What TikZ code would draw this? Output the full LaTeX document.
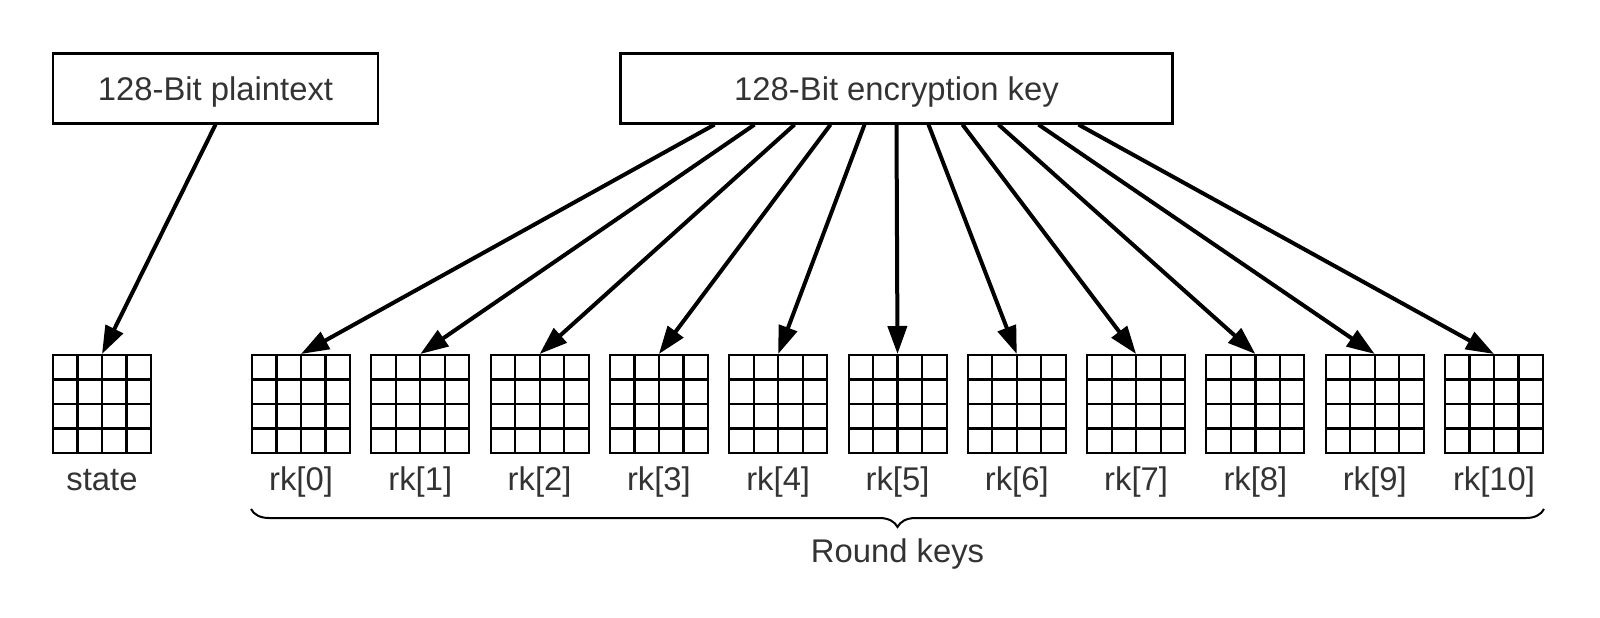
\documentclass[tikz,border=0pt]{standalone}
\usepackage{fontspec}
\setmainfont{Liberation Sans}
\usetikzlibrary{arrows.meta,positioning,calc,decorations.pathreplacing}
\definecolor{txtgray}{RGB}{51,51,51}

\begin{document}
\begin{tikzpicture}[
    x=0.5pt, y=-0.5pt,
    font=\fontsize{16.4}{19}\selectfont, text=txtgray,
    inbox/.style={draw, line width=1.1pt, minimum height=35pt, inner sep=0pt, text height=11.7pt, text depth=0pt},
    blockgrid/.style={draw, line width=1pt, minimum size=49pt, inner sep=0pt,
      path picture={
        \foreach \k in {1,2,3} {
          \draw[line width=1.1pt] ($(path picture bounding box.north west)!\k/4!(path picture bounding box.north east)$)
            -- ($(path picture bounding box.south west)!\k/4!(path picture bounding box.south east)$);
          \draw[line width=1.1pt] ($(path picture bounding box.north west)!\k/4!(path picture bounding box.south west)$)
            -- ($(path picture bounding box.north east)!\k/4!(path picture bounding box.south east)$);
        }
      }},
    lbl/.style={inner sep=0pt, text height=11.7pt, text depth=0pt},
    feed/.style={-{Triangle[length=14pt,width=9.5pt]}, line width=2pt},
    brc/.style={decorate, decoration={brace, amplitude=9pt}, line width=1pt}
  ]
  \useasboundingbox (0,0) rectangle (1600,617);
  \def\gridY{404}
  \node[inbox, minimum width=162.5pt] (plain) at (215.5,88.5) {128-Bit plaintext};
  \node[inbox, minimum width=276pt] (key) at (896.5,88.5) {128-Bit encryption key};
  \node[blockgrid] (state) at (102,\gridY) {};
  \node[lbl, below=6.5pt of state] (lstate) {state};
  \draw[feed] (plain.south) -- (state.north);
  \foreach \i/\dx in {0/-182,1/-142,2/-102,3/-66,4/-32,5/0,6/32,7/66,8/102,9/142,10/182} {
    \node[blockgrid] (rk\i) at (301+119.3*\i,\gridY) {};
    \node[lbl, below=6.5pt of rk\i] (lrk\i) {rk[\i]};
    \draw[feed] ([xshift={\dx*0.5pt}]key.south) -- (rk\i.north);
  }
  \draw[brc] ([yshift=-27.5pt]rk10.south east) -- ([yshift=-27.5pt]rk0.south west)
    node[lbl, midway, below=14.5pt] (rounds) {Round keys};
\end{tikzpicture}
\end{document}
